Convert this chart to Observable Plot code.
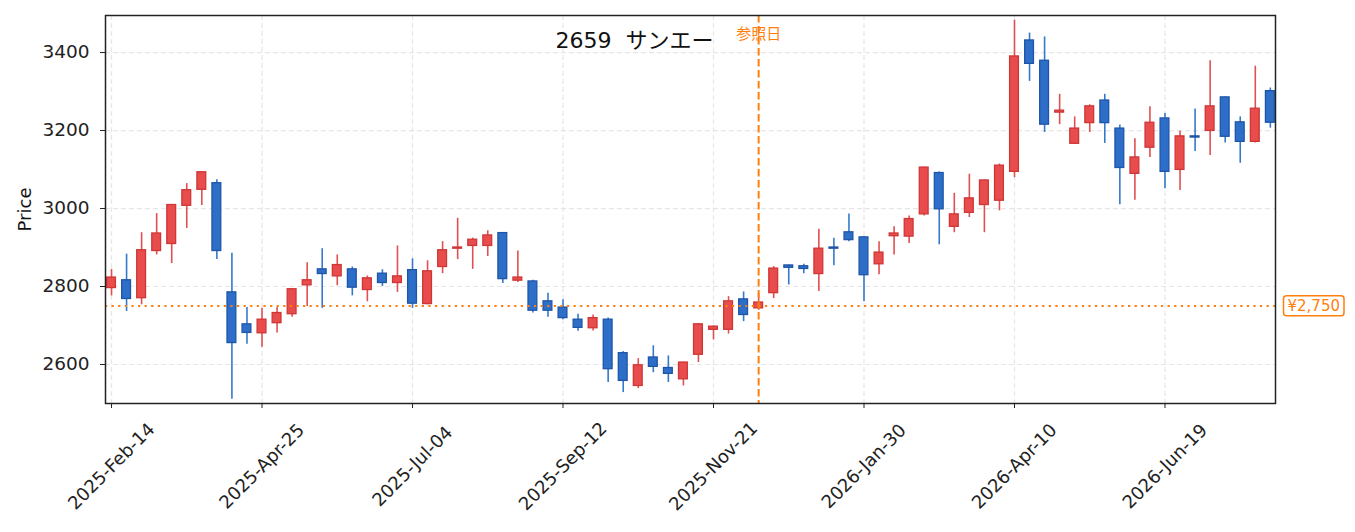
<!DOCTYPE html>
<html>
<head>
<meta charset="utf-8">
<script src="https://cdn.jsdelivr.net/npm/d3@7"></script>
<script src="https://cdn.jsdelivr.net/npm/@observablehq/plot@0.6"></script>
<style>
  html, body { margin: 0; padding: 0; background: #fff; }
  body { font-family: "DejaVu Sans", "Noto Sans CJK JP", sans-serif; }
</style>
</head>
<body>
<div id="chart"></div>
<script>
const dates = [
  "2025-02-14","2025-02-21","2025-02-28","2025-03-07","2025-03-14","2025-03-21","2025-03-28",
  "2025-04-04","2025-04-11","2025-04-18","2025-04-25","2025-05-02","2025-05-09","2025-05-16",
  "2025-05-23","2025-05-30","2025-06-06","2025-06-13","2025-06-20","2025-06-27","2025-07-04",
  "2025-07-11","2025-07-18","2025-07-25","2025-08-01","2025-08-08","2025-08-15","2025-08-22",
  "2025-08-29","2025-09-05","2025-09-12","2025-09-19","2025-09-26","2025-10-03","2025-10-10",
  "2025-10-17","2025-10-24","2025-10-31","2025-11-07","2025-11-14","2025-11-21","2025-11-28",
  "2025-12-05","2025-12-12","2025-12-19","2025-12-26","2026-01-02","2026-01-09","2026-01-16",
  "2026-01-23","2026-01-30","2026-02-06","2026-02-13","2026-02-20","2026-02-27","2026-03-06",
  "2026-03-13","2026-03-20","2026-03-27","2026-04-03","2026-04-10","2026-04-17","2026-04-24",
  "2026-05-01","2026-05-08","2026-05-15","2026-05-22","2026-05-29","2026-06-05","2026-06-12",
  "2026-06-19","2026-06-26","2026-07-03","2026-07-10","2026-07-17","2026-07-24","2026-07-31",
  "2026-08-07"
];
const openP = [
  2796,2816,2770,2891,2909,3007,3048,3065,2785,2703,2680,2706,2729,2803,2844,2826,2844,2791,2833,2809,
  2842,2755,2850,2897,2904,2904,2937,2815,2813,2762,2746,2715,2693,2715,2629,2545,2618,2591,2562,2625,
  2689,2689,2767,2744,2783,2854,2852,2832,2900,2939,2926,2857,2929,2928,2985,3091,2953,2989,3009,3020,
  3094,3431,3379,3246,3166,3219,3277,3205,3089,3156,3231,3099,3185,3199,3285,3221,3171,3301
];
const closeP = [
  2823,2768,2893,2936,3009,3047,3093,2891,2655,2681,2715,2732,2793,2816,2832,2855,2797,2821,2809,2826,
  2756,2839,2893,2900,2920,2931,2819,2823,2738,2738,2719,2694,2719,2588,2558,2598,2594,2576,2605,2703,
  2697,2762,2727,2759,2846,2848,2845,2897,2897,2919,2829,2887,2936,2973,3105,2998,2985,3026,3072,3110,
  3390,3371,3215,3251,3205,3262,3219,3104,3131,3220,3094,3185,3182,3262,3184,3171,3256,3220
];
const highP = [
  2844,2883,2938,2987,3010,3064,3094,3074,2885,2746,2744,2746,2794,2861,2897,2881,2850,2827,2843,2904,
  2871,2866,2915,2975,2924,2943,2938,2891,2816,2783,2766,2729,2727,2719,2633,2615,2648,2622,2606,2705,
  2699,2774,2786,2782,2851,2855,2857,2947,2924,2986,2928,2915,2953,2981,3106,3094,3039,3088,3073,3114,
  3483,3450,3440,3293,3235,3266,3293,3214,3179,3261,3244,3198,3255,3379,3286,3235,3365,3309
];
const lowP = [
  2776,2736,2753,2881,2859,2949,3008,2869,2511,2652,2644,2681,2721,2749,2744,2802,2776,2761,2800,2785,
  2744,2753,2833,2869,2844,2877,2808,2810,2732,2721,2715,2685,2686,2554,2528,2538,2579,2554,2545,2605,
  2663,2678,2710,2739,2769,2804,2833,2787,2853,2915,2761,2830,2881,2910,2981,2907,2938,2977,2938,2994,
  3079,3326,3195,3215,3166,3195,3167,3010,3021,3131,3051,3046,3146,3136,3168,3116,3168,3206
];
const xTickLabels = ["2025-02-14","2025-04-25","2025-07-04","2025-09-12","2025-11-21","2026-01-30","2026-04-10","2026-06-19"];
const yTicks = [2600, 2800, 3000, 3200, 3400];
const refDate = "2025-12-12";
const refLabel = "参照日";
const refPrice = 2750;
const priceLabel = "¥2,750";
const titleText = "2659  サンエー";
const yLabel = "Price";

const DAY = 86400000;
const candles = dates.map((d, i) => ({
  date: new Date(d + "T00:00:00Z"),
  open: openP[i], close: closeP[i], high: highP[i], low: lowP[i],
  up: closeP[i] >= openP[i]
}));
const tickDates = xTickLabels.map(d => new Date(d + "T00:00:00Z"));
const refD = new Date(refDate + "T00:00:00Z");
const first = candles[0].date, last = candles[candles.length - 1].date;

const RED_FILL = "#e84c4c", RED_STROKE = "#cf3636";
const BLUE_FILL = "#2d6fc8", BLUE_STROKE = "#1f55a8";
const ORANGE = "#ff7f0e";
const FONT = "DejaVu Sans, Noto Sans CJK JP, sans-serif";
const fmt = d3.utcFormat("%Y-%b-%d");

const chart = Plot.plot({
  width: 1355,
  height: 532,
  marginLeft: 105,
  marginRight: 80,
  marginTop: 15,
  marginBottom: 129,
  style: { fontFamily: FONT, fontSize: "18px", background: "#fff", color: "#222" },
  x: { type: "utc", domain: [new Date(+first - 2.8 * DAY), new Date(+last + 2.4 * DAY)] },
  y: { domain: [2500, 3495] },
  marks: [
    Plot.gridX(tickDates, { stroke: "#e6e6e6", strokeOpacity: 1, strokeWidth: 1.2, strokeDasharray: "5,3" }),
    Plot.gridY(yTicks, { stroke: "#e6e6e6", strokeOpacity: 1, strokeWidth: 1.2, strokeDasharray: "5,3" }),
    Plot.ruleX(candles, {
      x: "date", y1: "low", y2: "high",
      stroke: d => d.up ? "#e05050" : "#3579cc", strokeWidth: 1.6
    }),
    Plot.rect(candles, {
      x1: d => new Date(+d.date - 2.05 * DAY), x2: d => new Date(+d.date + 2.05 * DAY),
      y1: "open", y2: "close",
      fill: d => d.up ? RED_FILL : BLUE_FILL,
      stroke: d => d.up ? RED_STROKE : BLUE_STROKE, strokeWidth: 1.3
    }),
    Plot.ruleY([refPrice], { stroke: ORANGE, strokeWidth: 2, strokeDasharray: "2.2,4.4" }),
    Plot.ruleX([refD], { stroke: ORANGE, strokeWidth: 2, strokeDasharray: "7.5,3.5" }),
    Plot.text([refLabel], { x: () => refD, frameAnchor: "top", dy: 19, fill: ORANGE, fontSize: 15, textAnchor: "middle", lineAnchor: "middle", fontFamily: FONT }),
    Plot.text([titleText], { frameAnchor: "top-left", dx: 529, dy: 25, fill: "#111", fontSize: 22, textAnchor: "middle", lineAnchor: "middle", fontFamily: FONT }),
    Plot.text([priceLabel], { y: () => refPrice, frameAnchor: "right", dx: 12, fill: ORANGE, fontSize: 15, textAnchor: "start", lineAnchor: "middle", fontFamily: FONT, className: "pricelabel" }),
    Plot.text([yLabel], { frameAnchor: "left", dx: -80, rotate: -90, fill: "#111", fontSize: 18, textAnchor: "middle", lineAnchor: "middle", fontFamily: FONT }),
    Plot.axisY({ ticks: yTicks, tickSize: 5, tickPadding: 11, fontSize: 18.5, label: null, tickFormat: d => String(d) }),
    Plot.axisX({ ticks: tickDates, tickSize: 5, tickPadding: 58, tickRotate: -45, textAnchor: "middle", lineAnchor: "middle", fontSize: 18, label: null, tickFormat: fmt }),
    Plot.frame({ stroke: "#222", strokeWidth: 1.5 })
  ]
});

document.getElementById("chart").appendChild(chart);

// rounded box around the price label
const root = chart.tagName.toLowerCase() === "svg" ? chart : chart.querySelector("svg");
d3.select(root).selectAll(".pricelabel text").each(function () {
  const b = this.getBBox();
  const tr = this.getAttribute("transform");
  const r = d3.select(this.parentNode).insert("rect", ":first-child")
    .attr("x", b.x - 4).attr("y", b.y - 1)
    .attr("width", b.width + 8).attr("height", b.height + 2)
    .attr("rx", 3).attr("ry", 3)
    .attr("fill", "#fff").attr("stroke", ORANGE).attr("stroke-width", 1.5);
  if (tr) r.attr("transform", tr);
});
</script>
</body>
</html>
